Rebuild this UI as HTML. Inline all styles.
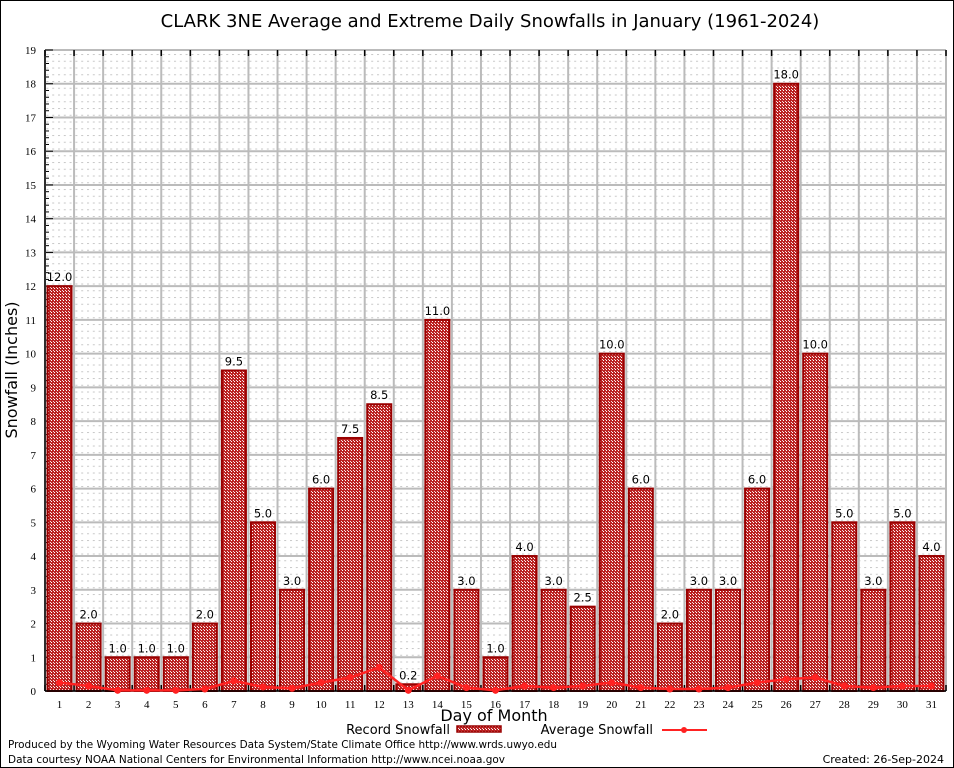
<!DOCTYPE html>
<html><head><meta charset="utf-8"><style>
html,body{margin:0;padding:0;background:#fff}
svg{display:block;font-family:"DejaVu Sans","Liberation Sans",sans-serif}
</style></head><body>
<svg id="c" width="954" height="768">
<defs>
<pattern id="chk" width="3" height="3" patternUnits="userSpaceOnUse">
<rect width="3" height="3" fill="#b22"/><rect width="1" height="1" fill="#fff"/><rect x="2" y="2" width="1" height="1" fill="#f4dada"/>
</pattern>
<pattern id="dots" width="5.8" height="6.75" patternUnits="userSpaceOnUse">
<rect width="5.8" height="6.75" fill="#fff"/><rect x="0" y="0" width="2" height="1" fill="#c8c8c8"/>
</pattern>
</defs>
<rect x="0.5" y="0.5" width="953" height="767" fill="#fff" stroke="#000"/>
<text x="490" y="27" font-size="18" text-anchor="middle">CLARK 3NE Average and Extreme Daily Snowfalls in January (1961-2024)</text>
<g id="plot"></g>
<text transform="translate(17,370) rotate(-90)" font-size="16" text-anchor="middle">Snowfall (Inches)</text>
<text x="494" y="721" font-size="16" text-anchor="middle">Day of Month</text>
<g>
<text x="450" y="734" font-size="13" text-anchor="end">Record Snowfall</text>
<rect x="457" y="726" width="44" height="6" fill="url(#chk)" stroke="#900" stroke-width="1.5"/>
</g>
<g>
<text x="653" y="734" font-size="13" text-anchor="end">Average Snowfall</text>
<line x1="662" y1="730" x2="707" y2="730" stroke="#f22" stroke-width="2"/>
<circle cx="684" cy="730" r="3" fill="#f22"/>
</g>
<text x="8" y="748" font-size="10.5" textLength="549" lengthAdjust="spacingAndGlyphs">Produced by the Wyoming Water Resources Data System/State Climate Office http://www.wrds.uwyo.edu</text>
<text x="8" y="763" font-size="10.5" textLength="497" lengthAdjust="spacingAndGlyphs">Data courtesy NOAA National Centers for Environmental Information http://www.ncei.noaa.gov</text>
<text x="944" y="763" font-size="11" text-anchor="end">Created: 26-Sep-2024</text>
</svg>
<script>
const days=[1,2,3,4,5,6,7,8,9,10,11,12,13,14,15,16,17,18,19,20,21,22,23,24,25,26,27,28,29,30,31];
const records=[12,2,1,1,1,2,9.5,5,3,6,7.5,8.5,0.2,11,3,1,4,3,2.5,10,6,2,3,3,6,18,10,5,3,5,4];
const averages=[0.25,0.15,0.02,0.02,0.02,0.06,0.3,0.12,0.08,0.25,0.4,0.7,0.02,0.45,0.1,0.02,0.15,0.1,0.15,0.25,0.1,0.06,0.06,0.1,0.25,0.35,0.4,0.15,0.1,0.15,0.15];
const yTicks=[0,1,2,3,4,5,6,7,8,9,10,11,12,13,14,15,16,17,18,19];
const NS='http://www.w3.org/2000/svg';
const L=45,R=946,T=50,B=691,YMAX=19;
const bw=(R-L)/days.length;
const xC=i=>L+bw*(i+0.5);
const y=v=>B-(B-T)*v/YMAX;
const g=document.getElementById('plot');
function mk(t,a,p){const e=document.createElementNS(NS,t);for(const k in a)e.setAttribute(k,a[k]);(p||g).appendChild(e);return e;}
const bg=mk('rect',{x:L,y:T,width:R-L,height:B-T,fill:'url(#dots)'});


yTicks.forEach(v=>{
 mk('line',{x1:L,x2:R,y1:y(v),y2:y(v),stroke:'#bbb','stroke-width':2});
 const t=mk('text',{x:L-9,y:y(v)+4,'font-size':11,'text-anchor':'end','font-family':'Liberation Serif,serif'});t.textContent=v;
 
 
 mk('line',{x1:L,x2:L+8,y1:y(v),y2:y(v),stroke:'#000'});
 if(v<YMAX)for(let m=1;m<5;m++)mk('line',{x1:L,x2:L+4,y1:y(v+m*0.2),y2:y(v+m*0.2),stroke:'#000'});
});
for(let k=0;k<=days.length;k++){
 const x=L+bw*k;
 mk('line',{x1:x,x2:x,y1:T,y2:B,stroke:'#bbb','stroke-width':2});
 mk('line',{x1:x,x2:x,y1:T,y2:T+6,stroke:'#000','stroke-width':1.5});
 mk('line',{x1:x,x2:x,y1:B,y2:B-6,stroke:'#000','stroke-width':1.5});
}
days.forEach((d,i)=>{
 const v=records[i];
 const r=mk('rect',{x:xC(i)-12,y:y(v),width:24,height:B-y(v),fill:'url(#chk)',stroke:'#900','stroke-width':2});
 
 
 const lbl=mk('text',{x:xC(i),y:y(v)-5,'font-size':11.5,'text-anchor':'middle'});lbl.textContent=v.toFixed(1);
 
 
 const t=mk('text',{x:xC(i),y:B+17,'font-size':11,'text-anchor':'middle','font-family':'Liberation Serif,serif'});t.textContent=d;
 
 
});
mk('line',{x1:L,x2:R,y1:B,y2:B,stroke:'#000','stroke-width':1.5});
mk('line',{x1:L,x2:L,y1:T,y2:B,stroke:'#000','stroke-width':1.5});
const pts=averages.map((v,i)=>xC(i)+','+y(v)).join(' ');
const pl=mk('polyline',{points:pts,fill:'none',stroke:'#f22','stroke-width':2.5});


averages.forEach((v,i)=>{
 const c=mk('circle',{cx:xC(i),cy:y(v),r:3.5,fill:'#f22'});
 
 
});
</script>
</body></html>
